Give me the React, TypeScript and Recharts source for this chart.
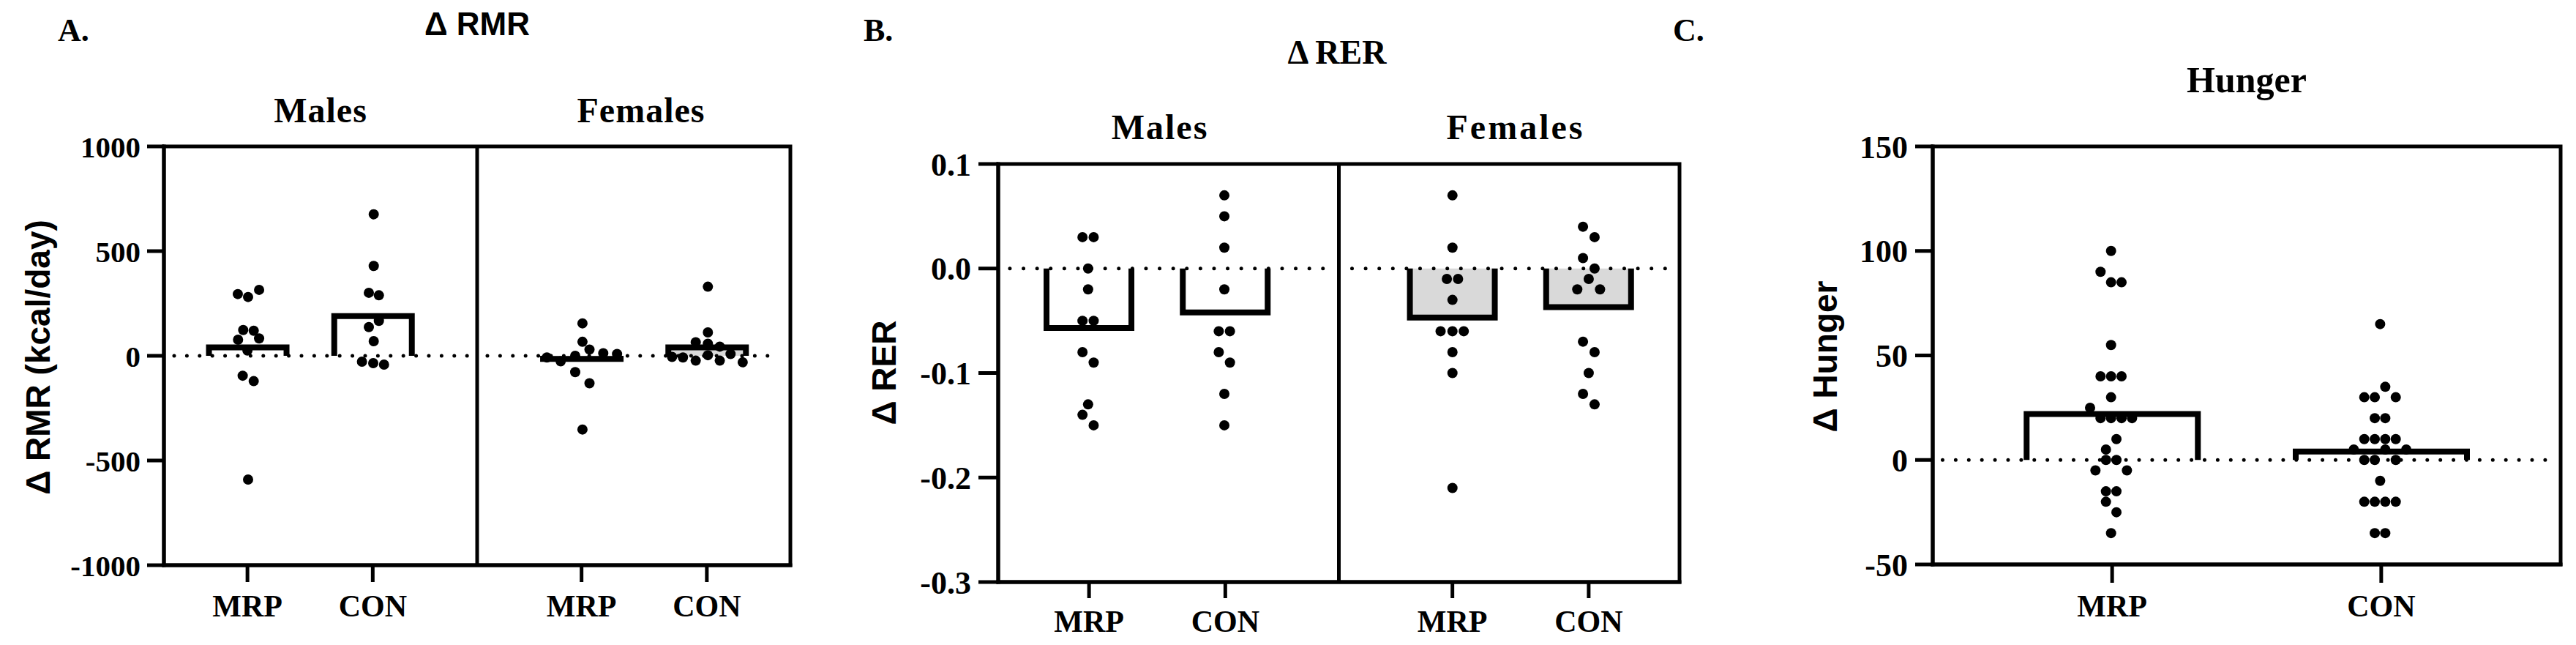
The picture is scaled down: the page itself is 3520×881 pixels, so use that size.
import React from 'react';
import {
  ComposedChart,
  Bar,
  Scatter,
  XAxis,
  YAxis,
  ReferenceLine,
  ReferenceArea,
  Cell,
} from 'recharts';

const SERIF = '"Liberation Serif", "Times New Roman", serif';
const SANS = '"Liberation Sans", Arial, sans-serif';

// ---------- Panel A: Δ RMR ----------
const groupLabels = ['MRP', 'CON', 'MRP', 'CON'];
const groupPositions = [1, 2, 11 / 3, 14 / 3];
const rmrMeans = [40, 190, -15, 40];
const rmrMaleMRP = [
  [0.923, 295], [1.005, 281], [1.093, 315], [0.966, 123], [1.05, 120], [0.925, 77],
  [1.093, 83], [1.0, 25], [0.962, -95], [1.05, -121], [1.005, -591],
];
const rmrMaleCON = [
  [2.008, 676], [2.008, 429], [1.969, 301], [2.049, 289], [2.049, 167], [1.969, 137],
  [2.008, 70], [1.914, -28], [2.004, -35], [2.09, -42],
];
const rmrFemaleMRP = [
  [3.674, 155], [3.674, 67], [3.73, 30], [3.84, 12], [3.95, 9], [3.616, 0],
  [3.5, -26], [3.39, -8], [3.616, -78], [3.73, -131], [3.674, -352],
];
const rmrFemaleCON = [
  [4.675, 330], [4.675, 112], [4.578, 65], [4.675, 58], [4.77, 44], [4.389, -5],
  [4.476, -8], [4.578, -23], [4.675, 3], [4.77, -23], [4.856, 9], [4.953, -31],
];
const rmrTicks = [-1000, -500, 0, 500, 1000];

// ---------- Panel B: Δ RER ----------
const rerMeans = [-0.057, -0.042, -0.047, -0.037];
const rerMaleMRP = [
  [0.952, 0.03], [1.034, 0.03], [0.993, 0.0], [0.993, -0.02], [0.952, -0.05], [1.034, -0.05],
  [0.952, -0.08], [1.034, -0.09], [0.993, -0.13], [0.952, -0.14], [1.034, -0.15],
];
const rerMaleCON = [
  [1.993, 0.07], [1.993, 0.05], [1.993, 0.02], [1.993, -0.02], [1.952, -0.06], [2.034, -0.06],
  [1.952, -0.08], [2.034, -0.09], [1.993, -0.12], [1.993, -0.15],
];
const rerFemaleMRP = [
  [3.667, 0.07], [3.667, 0.02], [3.626, -0.01], [3.708, -0.01], [3.667, -0.03], [3.58, -0.06],
  [3.667, -0.06], [3.75, -0.06], [3.667, -0.08], [3.667, -0.1], [3.667, -0.21],
];
const rerFemaleCON = [
  [4.625, 0.04], [4.71, 0.03], [4.625, 0.01], [4.71, 0.0], [4.667, -0.01], [4.583, -0.02],
  [4.75, -0.02], [4.625, -0.07], [4.71, -0.08], [4.667, -0.1], [4.625, -0.12], [4.71, -0.13],
];
const rerTicks = [-0.3, -0.2, -0.1, 0, 0.1];

// ---------- Panel C: Hunger ----------
const hungerLabels = ['MRP', 'CON'];
const hungerPositions = [1, 2];
const hungerMeans = [22, 4];
const hungerMRP = [
  [0.996, 100], [0.957, 90], [0.996, 85], [1.035, 85], [0.996, 55], [0.957, 40], [0.996, 40],
  [1.035, 40], [0.996, 30], [0.918, 25], [0.957, 20], [0.996, 20], [1.035, 20], [1.074, 20],
  [1.016, 10], [0.977, 5], [0.977, 0], [1.016, 0], [0.938, -5], [1.055, -5], [0.977, -15],
  [1.016, -15], [0.977, -20], [1.016, -25], [0.996, -35],
];
const hungerCON = [
  [1.996, 65], [2.015, 35], [1.937, 30], [1.976, 30], [2.054, 30], [1.976, 20], [2.015, 20],
  [1.937, 10], [1.976, 10], [2.015, 10], [2.054, 10], [1.898, 5], [2.015, 5], [2.093, 5],
  [1.937, 0], [1.976, 0], [2.054, 0], [1.996, -10], [1.937, -20], [1.976, -20], [2.015, -20],
  [2.054, -20], [1.976, -35], [2.015, -35],
];
const hungerTicks = [-50, 0, 50, 100, 150];

const toPoints = (...groups: number[][][]) =>
  groups.flat().map(([x, y]) => ({ x, y }));

const OpenBar = (props: any) => {
  const { x, y, width, height, fill, payload, value } = props;
  if (x == null || y == null || width == null || height == null) return null;
  const v = payload && typeof payload.y === 'number' ? payload.y : Array.isArray(value) ? value[1] : value;
  const top = Math.min(y, y + height);
  const bottom = Math.max(y, y + height);
  const l = x;
  const r = x + width;
  const d =
    v >= 0
      ? `M${l},${bottom} L${l},${top} L${r},${top} L${r},${bottom}`
      : `M${l},${top} L${l},${bottom} L${r},${bottom} L${r},${top}`;
  return (
    <g>
      <rect x={l} y={top} width={width} height={bottom - top} fill={fill} stroke="none" />
      <path d={d} fill="none" stroke="#000" strokeWidth={8} strokeLinejoin="miter" />
    </g>
  );
};

const Dot = (props: any) => {
  const { cx, cy } = props;
  if (cx == null || cy == null) return null;
  return <circle cx={cx} cy={cy} r={7} fill="#000" />;
};

type PanelProps = {
  left: number;
  width: number;
  plotLeft: number;
  plotRight: number;
  plotTop: number;
  plotBottom: number;
  xDomain: [number, number];
  positions: number[];
  labels: string[];
  means: number[];
  fills: string[];
  points: { x: number; y: number }[];
  yDomain: [number, number];
  yTicks: number[];
  yFmt: (v: number) => string;
  barSize: number;
  zeroSegments: [number, number][];
  separator?: number;
  yTickSize: number;
  yTickMargin: number;
  xTickSize: number;
  xTickMargin: number;
  yFontSize: number;
  dotGap: number;
};

const Panel = (p: PanelProps) => {
  const Y_AXIS_W = 120;
  const X_AXIS_H = 60;
  const margin = {
    top: p.plotTop,
    right: p.left + p.width - p.plotRight,
    bottom: 881 - p.plotBottom - X_AXIS_H,
    left: p.plotLeft - p.left - Y_AXIS_W,
  };
  const barData = p.positions.map((x, i) => ({ x, y: p.means[i] }));
  const labelOf = (v: number) => {
    const i = p.positions.findIndex((q) => Math.abs(q - v) < 1e-6);
    return i >= 0 ? p.labels[i] : '';
  };
  return (
    <div style={{ position: 'absolute', left: p.left, top: 0, width: p.width, height: 881 }}>
      <ComposedChart width={p.width} height={881} data={barData} margin={margin}>
        <XAxis
          dataKey="x"
          type="number"
          domain={p.xDomain}
          ticks={p.positions}
          tickFormatter={labelOf}
          interval={0}
          height={X_AXIS_H}
          allowDataOverflow
          axisLine={{ stroke: '#000', strokeWidth: 5, strokeLinecap: 'square' }}
          tickLine={{ stroke: '#000', strokeWidth: 5 }}
          tickSize={p.xTickSize}
          tickMargin={p.xTickMargin}
          tick={{ fontFamily: SERIF, fontSize: 42, fontWeight: 'bold', fill: '#000' }}
        />
        <XAxis
          xAxisId="bars"
          dataKey="x"
          type="number"
          domain={p.xDomain}
          ticks={p.positions}
          allowDataOverflow
          hide
        />
        <YAxis
          dataKey="y"
          type="number"
          domain={p.yDomain}
          ticks={p.yTicks}
          tickFormatter={p.yFmt}
          interval={0}
          width={Y_AXIS_W}
          allowDataOverflow
          axisLine={{ stroke: '#000', strokeWidth: 5, strokeLinecap: 'square' }}
          tickLine={{ stroke: '#000', strokeWidth: 5 }}
          tickSize={p.yTickSize}
          tickMargin={p.yTickMargin}
          tick={{ fontFamily: SERIF, fontSize: p.yFontSize, fontWeight: 'bold', fill: '#000' }}
        />
        <ReferenceArea
          x1={p.xDomain[0]}
          x2={p.xDomain[1]}
          y1={p.yDomain[0]}
          y2={p.yDomain[1]}
          fill="none"
          fillOpacity={0}
          stroke="#000"
          strokeWidth={5}
          strokeOpacity={1}
        />
        {p.separator !== undefined && (
          <ReferenceLine x={p.separator} stroke="#000" strokeWidth={5} />
        )}
        <Bar
          xAxisId="bars"
          dataKey="y"
          barSize={p.barSize}
          shape={OpenBar}
          isAnimationActive={false}
        >
          {barData.map((_, i) => (
            <Cell key={i} fill={p.fills[i]} />
          ))}
        </Bar>
        {p.zeroSegments.map((s, i) => (
          <ReferenceLine
            key={i}
            segment={[
              { x: s[0], y: 0 },
              { x: s[1], y: 0 },
            ]}
            stroke="#000"
            strokeWidth={5}
            strokeDasharray={`0 ${p.dotGap}`}
            strokeLinecap="round"
          />
        ))}
        <Scatter data={p.points} dataKey="y" shape={Dot} isAnimationActive={false} />
      </ComposedChart>
    </div>
  );
};

const WHITE = '#ffffff';
const GREY = '#d9d9d9';

export default function App() {
  return (
    <div
      style={{
        position: 'absolute',
        left: 0,
        top: 0,
        width: 3520,
        height: 881,
        background: '#fff',
        overflow: 'hidden',
      }}
    >
      <Panel
        left={0}
        width={1150}
        plotLeft={224}
        plotRight={1080}
        plotTop={200}
        plotBottom={772}
        xDomain={[1 / 3, 16 / 3]}
        positions={groupPositions}
        labels={groupLabels}
        means={rmrMeans}
        fills={[WHITE, WHITE, GREY, GREY]}
        points={toPoints(rmrMaleMRP, rmrMaleCON, rmrFemaleMRP, rmrFemaleCON)}
        yDomain={[-1000, 1000]}
        yTicks={rmrTicks}
        yFmt={(v) => String(v)}
        barSize={106}
        zeroSegments={[
          [0.415, 2.775],
          [2.915, 5.25],
        ]}
        separator={17 / 6}
        yTickSize={23}
        yTickMargin={9}
        xTickSize={23}
        xTickMargin={17}
        yFontSize={41}
        dotGap={17.4}
      />
      <Panel
        left={1150}
        width={1200}
        plotLeft={1364}
        plotRight={2295}
        plotTop={224}
        plotBottom={795}
        xDomain={[1 / 3, 16 / 3]}
        positions={groupPositions}
        labels={groupLabels}
        means={rerMeans}
        fills={[WHITE, WHITE, GREY, GREY]}
        points={toPoints(rerMaleMRP, rerMaleCON, rerFemaleMRP, rerFemaleCON)}
        yDomain={[-0.3, 0.1]}
        yTicks={rerTicks}
        yFmt={(v) => (Math.abs(v) < 1e-9 ? '0.0' : v.toFixed(1))}
        barSize={116}
        zeroSegments={[
          [0.419, 2.73],
          [2.93, 5.23],
        ]}
        separator={17 / 6}
        yTickSize={27}
        yTickMargin={10}
        xTickSize={22}
        xTickMargin={16}
        yFontSize={44}
        dotGap={18.6}
      />
      <Panel
        left={2350}
        width={1170}
        plotLeft={2641}
        plotRight={3499}
        plotTop={200}
        plotBottom={771}
        xDomain={[1 / 3, 8 / 3]}
        positions={hungerPositions}
        labels={hungerLabels}
        means={hungerMeans}
        fills={[WHITE, WHITE]}
        points={toPoints(hungerMRP, hungerCON)}
        yDomain={[-50, 150]}
        yTicks={hungerTicks}
        yFmt={(v) => String(v)}
        barSize={234}
        zeroSegments={[[0.37, 2.626]]}
        yTickSize={24}
        yTickMargin={10}
        xTickSize={25}
        xTickMargin={16}
        yFontSize={44}
        dotGap={17.9}
      />
      <svg
        width={3520}
        height={881}
        style={{ position: 'absolute', left: 0, top: 0, pointerEvents: 'none' }}
      >
        {/* Panel A */}
        <text x={79} y={56} fontFamily={SERIF} fontWeight="bold" fontSize={44} fill="#000">A.</text>
        <text x={652} y={48} fontFamily={SANS} fontWeight="bold" fontSize={44} textAnchor="middle" fill="#000">Δ RMR</text>
        <text x={438} y={167} fontFamily={SERIF} fontWeight="bold" fontSize={48} textAnchor="middle" fill="#000" letterSpacing={1}>Males</text>
        <text x={876} y={167} fontFamily={SERIF} fontWeight="bold" fontSize={48} textAnchor="middle" fill="#000" letterSpacing={1}>Females</text>
        <text x={68} y={488} fontFamily={SANS} fontWeight="bold" fontSize={46} textAnchor="middle" fill="#000" transform="rotate(-90 68 488)">Δ RMR (kcal/day)</text>
        {/* Panel B */}
        <text x={1180} y={56} fontFamily={SERIF} fontWeight="bold" fontSize={44} fill="#000">B.</text>
        <text x={1827} y={87} fontFamily={SERIF} fontWeight="bold" fontSize={46} textAnchor="middle" fill="#000">Δ RER</text>
        <text x={1585} y={190} fontFamily={SERIF} fontWeight="bold" fontSize={48} textAnchor="middle" fill="#000" letterSpacing={2}>Males</text>
        <text x={2071} y={190} fontFamily={SERIF} fontWeight="bold" fontSize={48} textAnchor="middle" fill="#000" letterSpacing={3}>Females</text>
        <text x={1224} y={509} fontFamily={SANS} fontWeight="bold" fontSize={46} textAnchor="middle" fill="#000" transform="rotate(-90 1224 509)">Δ RER</text>
        {/* Panel C */}
        <text x={2286} y={56} fontFamily={SERIF} fontWeight="bold" fontSize={44} fill="#000">C.</text>
        <text x={3070} y={126} fontFamily={SERIF} fontWeight="bold" fontSize={50} textAnchor="middle" fill="#000">Hunger</text>
        <text x={2510} y={487} fontFamily={SANS} fontWeight="bold" fontSize={46} textAnchor="middle" fill="#000" transform="rotate(-90 2510 487)">Δ Hunger</text>
      </svg>
    </div>
  );
}
